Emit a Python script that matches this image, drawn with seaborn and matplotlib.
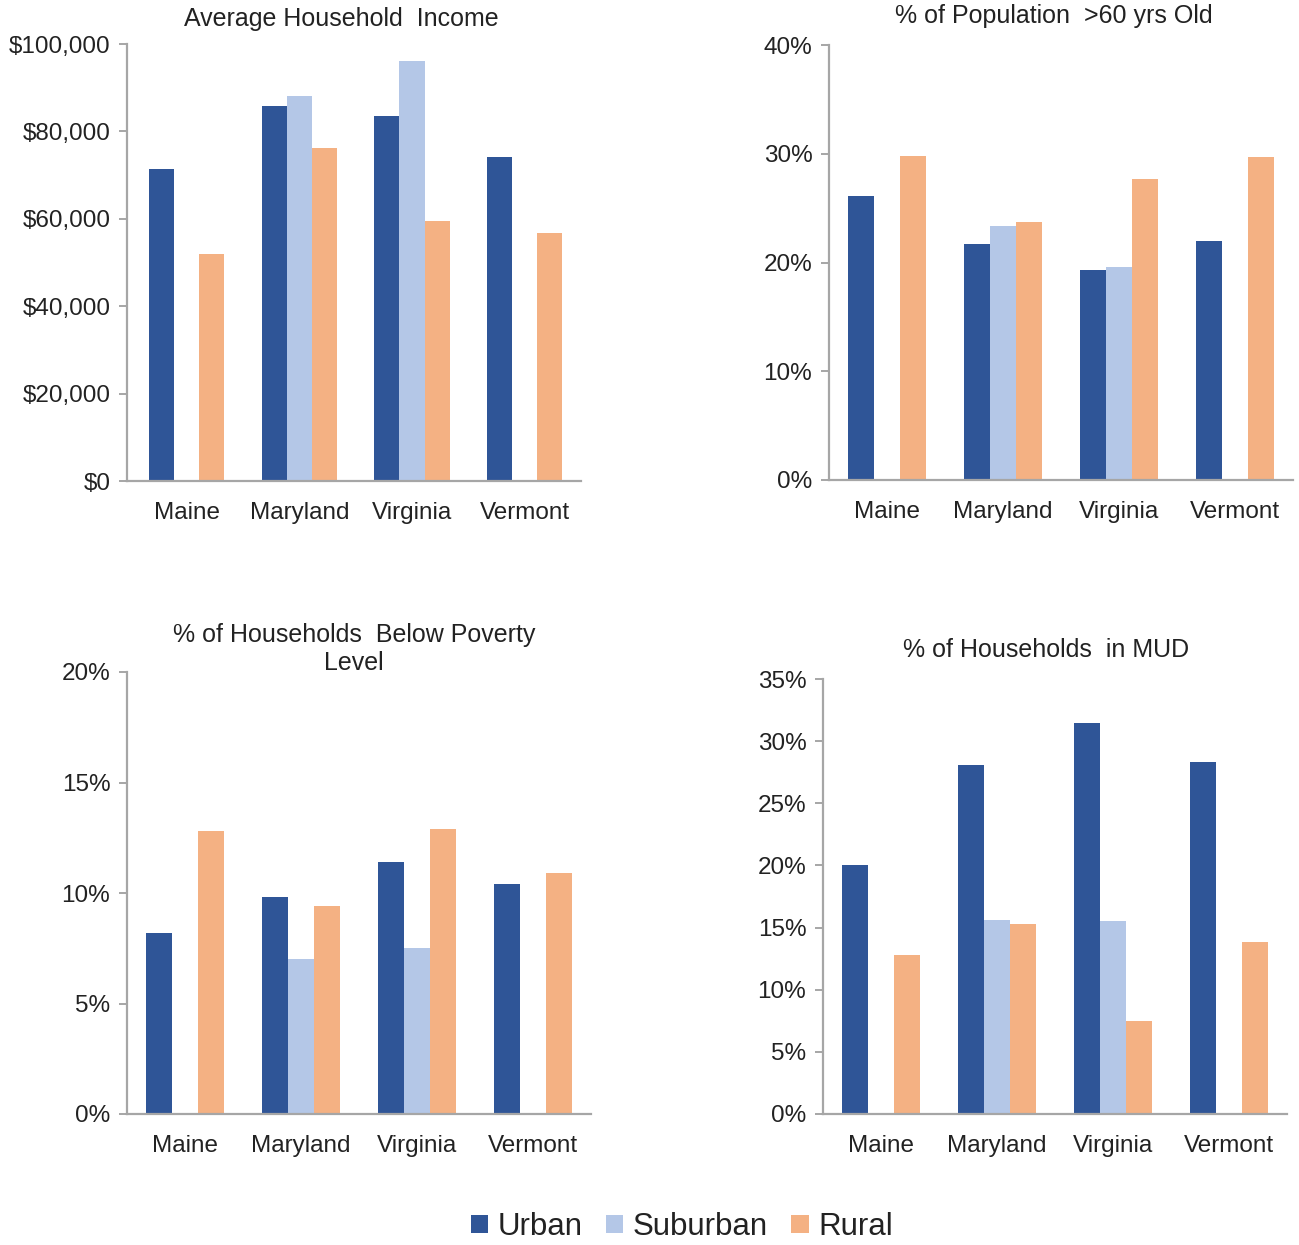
import numpy as np
import pandas as pd
import matplotlib
matplotlib.use("Agg")
import matplotlib.pyplot as plt
from matplotlib.ticker import FuncFormatter, MultipleLocator
import seaborn as sns

states = ["Maine", "Maryland", "Virginia", "Vermont"]
areas = ["Urban", "Suburban", "Rural"]
colors = ["#2F5597", "#B4C7E7", "#F4B183"]

income_urban = [71400, 85800, 83500, 74100]
income_suburban = [None, 88100, 96100, None]
income_rural = [51900, 76200, 59500, 56800]

over60_urban = [26.1, 21.7, 19.3, 22.0]
over60_suburban = [None, 23.4, 19.6, None]
over60_rural = [29.8, 23.7, 27.7, 29.7]

poverty_urban = [8.2, 9.8, 11.4, 10.4]
poverty_suburban = [None, 7.0, 7.5, None]
poverty_rural = [12.8, 9.4, 12.9, 10.9]

mud_urban = [20.0, 28.1, 31.5, 28.3]
mud_suburban = [None, 15.6, 15.5, None]
mud_rural = [12.8, 15.3, 7.5, 13.8]

titles = ["Average Household  Income", "% of Population  >60 yrs Old",
          "% of Households  Below Poverty\nLevel", "% of Households  in MUD"]


def make_df(u, s, r):
    rows = []
    for vals, a in zip([u, s, r], areas):
        for st, v in zip(states, vals):
            if v is not None:
                rows.append({"State": st, "Area": a, "Value": v})
    return pd.DataFrame(rows)


sns.set_theme(style="white")
plt.rcParams["font.family"] = ["Liberation Sans", "DejaVu Sans"]

W, H = 1299, 1245
fig = plt.figure(figsize=(W / 100, H / 100), dpi=100)


def box(l, r, t, b):
    return [l / W, (H - b) / H, (r - l) / W, (b - t) / H]


# (data, axes box px (l, r, t, b), ymax, step, formatter, title x px, title center y px, xmin)
panels = [
    (make_df(income_urban, income_suburban, income_rural), (127, 581, 44, 481), 100000, 20000,
     lambda v, p: f"${v:,.0f}", 341, 19, -0.53),
    (make_df(over60_urban, over60_suburban, over60_rural), (829, 1293, 45, 480), 40, 10,
     lambda v, p: f"{v:.0f}%", 1054, 16, -0.5),
    (make_df(poverty_urban, poverty_suburban, poverty_rural), (127, 591, 672, 1114), 20, 5,
     lambda v, p: f"{v:.0f}%", 354, 649, -0.5),
    (make_df(mud_urban, mud_suburban, mud_rural), (823, 1287, 679, 1114), 35, 5,
     lambda v, p: f"{v:.0f}%", 1046, 650, -0.5),
]

text_color = "#222222"
spine_color = "#A6A6A6"
handles = None
for i, (df, bx, ymax, step, fmt, tx, ty, xmin) in enumerate(panels):
    l, r, t, b = bx
    ax = fig.add_axes(box(l, r, t, b))
    sns.barplot(data=df, x="State", y="Value", hue="Area", hue_order=areas, order=states,
                palette=colors, width=0.67, linewidth=0, saturation=1, ax=ax,
                legend=(i == 0), errorbar=None)
    if i == 0:
        handles, labels = ax.get_legend_handles_labels()
        ax.get_legend().remove()
    ax.set_ylim(0, ymax)
    ax.set_xlim(xmin, 3.5)
    ax.yaxis.set_major_locator(MultipleLocator(step))
    ax.yaxis.set_major_formatter(FuncFormatter(fmt))
    ax.set_xlabel("")
    ax.set_ylabel("")
    for s in ["top", "right"]:
        ax.spines[s].set_visible(False)
    for s in ["left", "bottom"]:
        ax.spines[s].set_color(spine_color)
        ax.spines[s].set_linewidth(1.6)
    ax.tick_params(axis="y", left=True, length=6, width=1.4, color=spine_color,
                   labelsize=17.5, labelcolor=text_color, pad=6)
    ax.tick_params(axis="x", bottom=False, labelsize=17.5, labelcolor=text_color, pad=9)
    ax.text((tx - l) / (r - l), 1 + (t - ty) / (b - t), titles[i], transform=ax.transAxes,
            ha="center", va="center", fontsize=18, color=text_color, linespacing=1.2)

fig.legend(handles, labels, loc="center", bbox_to_anchor=(682 / W, 1 - 1227 / H), ncol=3,
           frameon=False, fontsize=22.5, handlelength=0.55, handleheight=0.55,
           handletextpad=0.3, columnspacing=0.75, labelcolor=text_color)

fig.savefig("out.png", dpi=100, facecolor="white")
